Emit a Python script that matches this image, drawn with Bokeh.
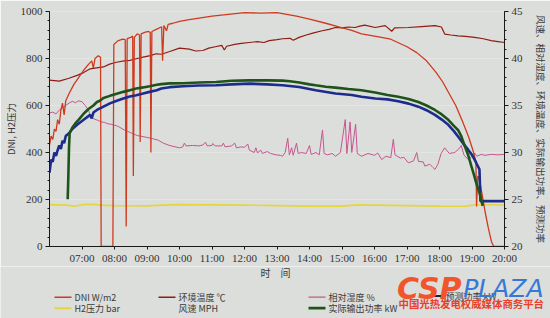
from bokeh.plotting import figure
from bokeh.models import Range1d, LinearAxis, FixedTicker
from bokeh.core.properties import value
from bokeh.embed import file_html
from bokeh.resources import INLINE

# ---------------- data (hours of day) ----------------
dni_t = [6.00, 6.05, 6.10, 6.15, 6.20, 6.25, 6.30, 6.35, 6.40, 6.45, 6.50, 6.60, 6.75, 6.90, 7.05, 7.20, 7.30, 7.35,
         7.40, 7.50, 7.57, 7.59, 7.95, 7.98, 8.10, 8.25, 8.33, 8.36, 8.39, 8.50, 8.56, 8.58, 8.61, 8.70, 8.77, 8.79,
         8.82, 8.95, 9.05, 9.10, 9.12, 9.15, 9.30, 9.45, 9.48, 9.52, 9.60, 9.65, 9.80, 10.0, 10.3, 10.6, 11.0, 11.5,
         12.0, 12.5, 13.0, 13.3, 13.6, 14.0, 14.5, 14.9, 15.3, 15.6, 16.0, 16.5, 17.0, 17.3, 17.6, 17.9, 18.1, 18.3,
         18.5, 18.7, 18.9, 19.05, 19.12, 19.14, 19.18, 19.22, 19.3, 19.4, 19.5, 19.6, 19.67, 20.0]
dni_v = [430, 470, 455, 500, 490, 540, 520, 580, 610, 560, 620, 650, 690, 720, 750, 775, 790, 760,
         800, 812, 805, 0, 0, 860, 875, 882, 880, 85, 885, 890, 895, 300, 890, 905, 900, 445,
         905, 912, 915, 910, 400, 915, 925, 935, 790, 940, 918, 945, 950, 958, 965, 972, 980, 988,
         995, 993, 995, 988, 980, 968, 950, 935, 920, 905, 895, 882, 850, 825, 790, 740, 700, 650,
         600, 535, 465, 400, 360, 170, 300, 290, 230, 150, 80, 20, 0, 0]

temp_t = [6.0, 6.3, 6.6, 6.85, 7.05, 7.25, 7.45, 7.66, 7.85, 8.06, 8.3, 8.47, 8.7, 8.88, 9.1, 9.28, 9.44, 9.7,
          10.0, 10.3, 10.5, 10.72, 10.9, 11.1, 11.3, 11.38, 11.45, 11.7, 11.9, 12.15, 12.4, 12.6, 12.76, 13.0,
          13.17, 13.4, 13.5, 13.68, 13.9, 14.1, 14.39, 14.6, 14.8, 15.0, 15.2, 15.4, 15.55, 15.7, 16.02, 16.33,
          16.53, 16.62, 17.04, 17.45, 17.86, 18.06, 18.16, 18.35, 18.57, 18.8, 19.08, 19.35, 19.59, 19.8, 20.0]
temp_v = [37.7, 37.6, 37.9, 38.2, 38.5, 38.9, 39.0, 39.1, 39.4, 39.6, 39.75, 39.8, 40.0, 40.15, 40.3, 40.5, 40.45, 40.75,
          41.1, 41.0, 40.8, 40.85, 41.1, 41.25, 41.4, 40.9, 41.3, 41.5, 41.6, 41.7, 41.8, 41.7, 41.9, 42.0,
          42.1, 42.15, 41.95, 42.25, 42.5, 42.7, 42.95, 43.1, 43.3, 43.25, 43.35, 43.3, 43.45, 43.55, 43.3, 43.5,
          42.9, 43.25, 43.3, 43.4, 43.5, 43.35, 42.6, 42.5, 42.4, 42.35, 42.25, 42.1, 41.9, 41.8, 41.7]

hum_t = [6.0, 6.1, 6.2, 6.3, 6.4, 6.5, 6.6, 6.7, 6.8, 6.9, 7.0, 7.1, 7.2, 7.25, 7.35, 7.5, 7.6, 7.7, 7.8, 7.9,
         8.0, 8.1, 8.3, 8.4, 8.5, 8.6, 8.7, 8.8, 9.0, 9.2, 9.35, 9.5, 9.65, 9.8, 10.0, 10.1, 10.15, 10.2, 10.4,
         10.6, 10.72, 10.8, 10.85, 11.0, 11.02, 11.1, 11.3, 11.35, 11.4, 11.6, 11.7, 11.75, 11.9, 12.0, 12.1,
         12.15, 12.3, 12.35, 12.4, 12.5, 12.55, 12.7, 12.8, 12.97, 13.1, 13.17, 13.25, 13.33, 13.38, 13.45,
         13.5, 13.6, 13.65, 13.75, 13.9, 14.0, 14.05, 14.2, 14.3, 14.4, 14.45, 14.55, 14.7, 14.8, 14.95, 15.1,
         15.15, 15.25, 15.3, 15.42, 15.47, 15.6, 15.8, 16.0, 16.1, 16.22, 16.35, 16.5, 16.58, 16.63, 16.8,
         16.9, 17.04, 17.2, 17.3, 17.35, 17.5, 17.55, 17.7, 17.8, 17.86, 17.95, 18.05, 18.16, 18.3, 18.47,
         18.6, 18.67, 18.75, 18.88, 19.0, 19.08, 19.15, 19.28, 19.4, 19.6, 19.8, 20.0]
hum_v = [34.2, 34.3, 34.1, 34.5, 34.75, 35.0, 35.25, 35.45, 35.3, 35.5, 35.4, 35.0, 34.5, 34.0, 33.6, 33.4,
         33.25, 33.2, 33.05, 33.0, 32.9, 32.8, 32.4, 32.25, 32.1, 31.95, 31.8, 31.75, 31.6, 31.45, 31.3, 31.0,
         30.8, 30.65, 30.5, 30.6, 31.0, 30.7, 30.75, 30.7, 30.8, 31.1, 30.7, 30.75, 30.95, 30.7, 30.7, 31.0,
         30.6, 30.7, 31.0, 30.5, 30.6, 30.55, 30.9, 30.25, 30.0, 30.5, 29.95, 30.25, 29.9, 30.1, 29.9, 29.75,
         29.7, 29.6, 30.0, 31.5, 29.75, 30.5, 29.7, 31.0, 29.9, 30.0, 29.9, 30.75, 29.8, 30.0, 29.75, 32.4,
         29.9, 29.75, 29.9, 29.6, 30.0, 33.5, 29.9, 33.25, 30.0, 33.0, 29.9, 29.6, 29.9, 29.7, 29.95, 29.25,
         29.6, 29.45, 31.4, 29.75, 29.4, 29.5, 28.9, 29.1, 30.0, 29.05, 29.0, 28.55, 28.75, 28.4, 28.2, 28.75,
         29.9, 30.5, 29.9, 30.0, 30.4, 30.75, 29.75, 29.25, 29.6, 29.95, 29.6, 29.8, 29.7, 29.8, 29.75, 29.8]

h2_t = [6.0, 6.5, 6.8, 7.0, 7.3, 7.6, 8.0, 9.0, 9.5, 10.0, 11.0, 12.0, 13.0, 14.0, 15.0, 15.5, 16.0, 17.0, 18.0,
        18.8, 19.0, 19.3, 20.0]
h2_v = [178, 176, 172, 178, 180, 176, 174, 173, 176, 178, 177, 176, 174, 172, 172, 177, 176, 174, 172, 171, 176,
        179, 176]

pred_t = [6.0, 6.05, 6.1, 6.15, 6.2, 6.25, 6.3, 6.35, 6.4, 6.45, 6.5, 6.6, 6.7, 6.85, 7.05, 7.25, 7.3, 7.35, 7.46,
          7.66, 7.86, 8.07, 8.27, 8.47, 8.67, 8.88, 9.08, 9.3, 9.44, 9.7, 10.11, 10.6, 11.13, 11.6, 12.15, 12.7,
          13.17, 13.68, 14.19, 14.8, 15.3, 15.6, 16.02, 16.4, 16.73, 17.05, 17.35, 17.6, 17.86, 18.07, 18.27,
          18.45, 18.57, 18.72, 18.88, 19.0, 19.08, 19.15, 19.23, 19.26, 20.0]
pred_v = [314, 370, 360, 400, 385, 410, 430, 415, 450, 440, 470, 482, 500, 518, 539, 560, 545, 570, 581,
          595, 609, 620, 630, 638, 644, 651, 658, 665, 672, 678, 682, 685, 686, 690, 693, 690,
          686, 679, 665, 651, 645, 637, 630, 626, 618, 608, 595, 580, 560, 540, 518,
          490, 468, 440, 412, 390, 370, 350, 328, 193, 193]

act_t = [6.56, 6.58, 6.6, 6.62, 6.7, 6.8, 6.9, 7.05, 7.2, 7.35, 7.46, 7.55, 7.66, 7.86, 8.07, 8.27, 8.47, 8.67,
         8.88, 9.08, 9.3, 9.44, 9.7, 10.11, 10.6, 11.13, 11.6, 12.15, 12.7, 13.17, 13.4, 13.68, 14.0, 14.19, 14.5,
         14.8, 15.2, 15.6, 16.02, 16.4, 16.73, 17.05, 17.35, 17.6, 17.86, 18.07, 18.27, 18.45, 18.57, 18.67,
         18.77, 18.88, 18.98, 19.05, 19.13, 19.23, 19.33]
act_v = [201, 300, 420, 482, 505, 525, 540, 565, 585, 600, 615, 620, 632, 641, 650, 658, 665, 672,
         677, 682, 688, 691, 694, 695, 698, 700, 705, 707, 707, 706, 703, 698, 690, 686, 680,
         676, 670, 665, 655, 645, 637, 628, 615, 600, 581, 562, 539, 512, 496, 470,
         430, 390, 342, 310, 271, 229, 173]

x_ticks = [7, 8, 9, 10, 11, 12, 13, 14, 15, 16, 17, 18, 19, 20]
x_tick_labels = ["07:00", "08:00", "09:00", "10:00", "11:00", "12:00", "13:00", "14:00",
                 "15:00", "16:00", "17:00", "18:00", "19:00", "20:00"]

legend_labels = ["DNI W/m2", "环境温度 ℃", "相对湿度 %", "预测功率 kW",
                 "H2压力 bar", "风速 MPH", "实际输出功率 kW"]

# ---------------- styling ----------------
BG = "#dcdedb"
C_DNI = "#cf3a1f"
C_TEMP = "#8e1c12"
C_HUM = "#c6568e"
C_H2 = "#e4d63c"
C_PRED = "#1d2c8c"
C_ACT = "#1e5419"
SERIF = "Liberation Serif"
CJK = "Noto Sans CJK SC"
LOGO = "DejaVu Sans"

SPLIT = 266  # pixel row where the chart ends and the legend strip starts

p = figure(width=550, height=SPLIT, output_backend="svg", toolbar_location=None,
           x_range=Range1d(6, 20), y_range=Range1d(0, 1000),
           min_border_left=46, min_border_right=42, min_border_top=11, min_border_bottom=SPLIT - 248,
           background_fill_color=BG, border_fill_color=BG)
p.outline_line_color = None
p.extra_y_ranges = {"right": Range1d(20, 45)}

p.line(h2_t, h2_v, color=C_H2, line_width=1.6)
p.line(hum_t, hum_v, color=C_HUM, line_width=1.0, y_range_name="right")
p.line(temp_t, temp_v, color=C_TEMP, line_width=1.2, y_range_name="right")
p.line(dni_t, dni_v, color=C_DNI, line_width=1.3)
p.line(pred_t, pred_v, color=C_PRED, line_width=2.6)
p.line(act_t, act_v, color=C_ACT, line_width=2.6)

xa = p.xaxis[0]
xa.ticker = FixedTicker(ticks=x_ticks)
xa.major_label_overrides = {t: l for t, l in zip(x_ticks, x_tick_labels)}
xa.major_tick_out = 3
xa.major_tick_in = 0
xa.minor_tick_out = 0
xa.major_label_standoff = 2

ya = p.yaxis[0]
ya.ticker = FixedTicker(ticks=[0, 200, 400, 600, 800, 1000],
                        minor_ticks=list(range(0, 1001, 40)))
ya.axis_label = "DNI, H2压力"
ya.axis_label_standoff = 0

ra = LinearAxis(y_range_name="right",
                ticker=FixedTicker(ticks=[20, 25, 30, 35, 40, 45], minor_ticks=list(range(20, 46))),
                axis_label="风速、相对湿度、环境温度、实际输出功率、预测功率")
p.add_layout(ra, "right")
ra.axis_label_standoff = 8

for ax in (xa, ya, ra):
    ax.axis_line_color = "#1a1a1a"
    ax.major_tick_line_color = "#1a1a1a"
    ax.minor_tick_line_color = "#1a1a1a"
    ax.major_label_text_font = SERIF
    ax.major_label_text_font_size = "11px"
    ax.major_label_text_color = "#333333"
    ax.axis_label_text_font = CJK
    ax.axis_label_text_font_size = "9.5px"
    ax.axis_label_text_font_style = "normal"
    ax.axis_label_text_color = "#3a3a3a"
for ax in (ya, ra):
    ax.major_tick_out = 4
    ax.major_tick_in = 0
    ax.minor_tick_out = 2
    ax.minor_tick_in = 0
    ax.major_label_standoff = 3

p.xgrid.grid_line_color = None
p.ygrid.grid_line_color = "#e4e6e3"
p.ygrid.grid_line_width = 1

# ---------------- lower strip (pixel coordinates): axis title, legend, watermark ----------------
q = figure(width=550, height=318 - SPLIT, output_backend="svg", toolbar_location=None,
           x_range=Range1d(0, 550), y_range=Range1d(318, SPLIT),
           x_axis_location=None, y_axis_location=None,
           min_border=0, min_border_left=0, min_border_right=0, min_border_top=0, min_border_bottom=0,
           background_fill_color=BG, border_fill_color=BG)
q.outline_line_color = None
q.grid.visible = False


def put(px, py, txt, font, size, color, style="normal", align="left", baseline="middle"):
    q.text(x=[px], y=[py], text=[txt], text_font=value(font), text_font_size=size, text_color=color,
           text_font_style=style, text_align=align, text_baseline=baseline)


put(275, 271.5, "时　间", CJK, "10px", "#3a3a3a", align="center")

row1, row2 = 296.7, 307.7
leg_colors = [C_DNI, C_TEMP, C_HUM, "#1c2240", C_H2, None, C_ACT]
leg_widths = [1.4, 1.6, 1.2, 2.0, 2.0, 0, 2.8]
leg_x = [54, 158, 308, 425, 54, 158, 308]
leg_y = [row1, row1, row1, 295.5, row2, row2, row2]
for lab, col, lw, lx, ly in zip(legend_labels, leg_colors, leg_widths, leg_x, leg_y):
    if col is not None:
        q.line([lx, lx + 17], [ly, ly], color=col, line_width=lw)
    put(lx + 20, ly, lab, CJK, "9px", "#3a3a3a")

put(461, 288, "CSP", LOGO, "30px", "#f2552c", style="bold italic", align="right", baseline="alphabetic")
put(543, 288, "PLAZA", LOGO, "25px", "#3677d8", style="italic", align="right", baseline="alphabetic")
put(398, 302.5, "中国光热发电权威媒体商务平台", CJK, "10.4px", "#e8402a", style="bold")

open("out.html", "w").write(file_html([p, q], INLINE))
